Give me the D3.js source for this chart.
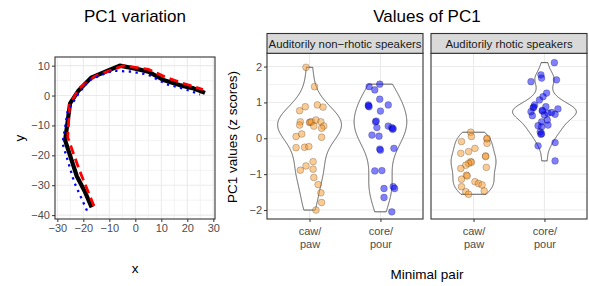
<!DOCTYPE html>
<html>
  <head>
    <meta charset="utf-8" />
    <title>PC1 variation and values</title>
    <script src="https://cdn.jsdelivr.net/npm/d3@7/dist/d3.min.js"></script>
    <style>
      body { margin: 0; background: #fff; }
      text { font-family: "Liberation Sans", Arial, sans-serif; }
    </style>
  </head>
  <body>
    <div id="chart"></div>
    <script>
      // left plot: tongue contours (x, y)
      const meanX = [-16.8, -19.5, -22.5, -27, -25.1, -22, -17, -12, -6, 0, 5, 10.8, 17, 22, 26.8];
      const meanY = [-37.4, -32, -27, -15, -2.6, 1.5, 6, 7.8, 10, 9, 8, 5.2, 3.5, 2.5, 0.9];
      const plusX = [-15.9, -21.5, -26, -25.3, -21.5, -15.5, -4.5, 5, 12, 18, 26];
      const plusY = [-37, -25, -14, -3, 2.5, 6.5, 10, 8.8, 6, 4.2, 2];
      const minusX = [-18.6, -23.5, -28, -26, -22, -18, -12, -8.5, -1.5, 5, 12, 17.8, 24.9];
      const minusY = [-38.5, -29, -16, -5, 0.5, 5, 7.3, 8.3, 8, 7, 3.8, 2.5, 0.4];

      // right plot: PC1 z scores, with horizontal jitter (category units)
      const pairs = ["caw/paw", "core/pour"];
      const groups = ["Auditorily non\u2212rhotic speakers", "Auditorily rhotic speakers"];

      const nonCawY = [1.98, 1.44, 0.88, 0.93, 0.87, 0.77, 0.46, 0.37, 0.44, 0.45, 0.46, 0.51, 0.46, 0.34, 0.34, 0.28, 0.12, 0.05, 0.03, -0.26, -0.25, -0.23, -0.65, -0.77, -0.89, -0.86, -1.09, -1.29, -1.52, -1.79, -2.0];
      const nonCawJ = [-0.05, 0.07, -0.06, 0.11, 0.19, -0.14, -0.13, -0.14, 0.0, 0.01, 0.03, 0.09, 0.16, 0.06, 0.2, 0.17, -0.11, -0.19, 0.17, -0.19, -0.07, -0.01, 0.05, -0.05, -0.13, 0.05, 0.06, 0.12, 0.16, 0.17, 0.09];

      const nonCoreY = [1.44, 1.35, 1.51, 1.09, 0.93, 0.88, 0.9, 0.93, 0.76, 0.46, 0.48, 0.3, 0.34, 0.3, 0.25, 0.27, 0.09, 0.06, -0.3, -0.33, -0.28, -0.91, -0.9, -1.35, -1.4, -1.4, -1.65, -2.05];
      const nonCoreJ = [-0.16, -0.08, -0.01, -0.01, -0.17, -0.16, -0.17, 0.11, 0.0, -0.07, -0.06, -0.05, 0.11, 0.16, 0.17, 0.18, -0.12, -0.02, -0.01, 0.0, 0.19, -0.08, 0.02, 0.18, 0.2, 0.05, 0.05, 0.16];

      const rhoCawY = [0.17, 0.05, -0.02, 0.0, -0.14, -0.09, -0.28, -0.37, -0.42, -0.49, -0.51, -0.65, -0.67, -0.7, -0.75, -0.84, -0.81, -1.03, -1.05, -1.14, -1.21, -1.26, -1.3, -1.35, -1.47, -1.49, -1.56];
      const rhoCawJ = [-0.04, -0.03, 0.19, 0.19, 0.19, -0.17, 0.02, -0.07, -0.18, 0.17, 0.17, -0.04, -0.03, -0.07, -0.11, -0.18, 0.18, -0.1, -0.09, -0.17, 0.02, 0.07, 0.12, -0.17, 0.15, -0.11, -0.07];

      const rhoCoreY = [2.11, 1.77, 1.68, 1.58, 1.63, 1.26, 1.16, 1.07, 0.93, 0.85, 0.87, 0.88, 0.82, 0.74, 0.76, 0.78, 0.72, 0.67, 0.63, 0.65, 0.7, 0.51, 0.46, 0.37, 0.35, 0.32, 0.18, 0.11, 0.13, -0.21, -0.12, -0.63];
      const rhoCoreJ = [0.14, -0.05, -0.04, -0.19, 0.17, 0.03, -0.02, -0.07, -0.14, -0.16, -0.15, 0.02, 0.19, -0.19, -0.03, -0.03, 0.1, 0.15, -0.17, 0.0, 0.05, 0.04, -0.04, 0.05, -0.09, -0.04, -0.06, -0.05, -0.04, -0.09, 0.15, 0.15];

      const panels = [
        { title: groups[0], sets: [{ pair: pairs[0], y: nonCawY, j: nonCawJ }, { pair: pairs[1], y: nonCoreY, j: nonCoreJ }] },
        { title: groups[1], sets: [{ pair: pairs[0], y: rhoCawY, j: rhoCawJ }, { pair: pairs[1], y: rhoCoreY, j: rhoCoreJ }] },
      ];

      const W = 589, H = 286;
      const svg = d3.select("#chart").append("svg").attr("width", W).attr("height", H);

      const grey92 = "#ebebeb", grey20 = "#333333", grey30 = "#4d4d4d";
      const minus = (d) => String(d).replace("-", "\u2212");

      // ---------- left plot ----------
      const lx = d3.scaleLinear().domain([-30.9, 30.65]).range([55, 215]);
      const ly = d3.scaleLinear().domain([-41.3, 12.9]).range([219, 57]);

      const left = svg.append("g");
      left.append("rect").attr("x", 55).attr("y", 57).attr("width", 160).attr("height", 162).attr("fill", "#fff");

      // minor grid
      d3.range(-25, 31, 10).forEach((v) => {
        left.append("line").attr("x1", lx(v)).attr("x2", lx(v)).attr("y1", 57).attr("y2", 219)
          .attr("stroke", grey92).attr("stroke-width", 0.6);
      });
      d3.range(-35, 13, 10).forEach((v) => {
        left.append("line").attr("y1", ly(v)).attr("y2", ly(v)).attr("x1", 55).attr("x2", 215)
          .attr("stroke", grey92).attr("stroke-width", 0.6);
      });
      // major grid
      d3.range(-30, 31, 10).forEach((v) => {
        left.append("line").attr("x1", lx(v)).attr("x2", lx(v)).attr("y1", 57).attr("y2", 219)
          .attr("stroke", grey92).attr("stroke-width", 1.1);
      });
      d3.range(-40, 11, 10).forEach((v) => {
        left.append("line").attr("y1", ly(v)).attr("y2", ly(v)).attr("x1", 55).attr("x2", 215)
          .attr("stroke", grey92).attr("stroke-width", 1.1);
      });

      const line = d3.line().x((d) => lx(d[0])).y((d) => ly(d[1]));
      const zip = (a, b) => a.map((v, i) => [v, b[i]]);

      left.append("path").attr("d", line(zip(meanX, meanY))).attr("fill", "none")
        .attr("stroke", "#000").attr("stroke-width", 4.2).attr("stroke-linejoin", "round");
      left.append("path").attr("d", line(zip(plusX, plusY))).attr("fill", "none")
        .attr("stroke", "#ff0000").attr("stroke-width", 2.8).attr("stroke-dasharray", "9,5");
      left.append("path").attr("d", line(zip(minusX, minusY))).attr("fill", "none")
        .attr("stroke", "#0000ff").attr("stroke-width", 2.3).attr("stroke-dasharray", "2.3,4.5");

      left.append("rect").attr("x", 55).attr("y", 57).attr("width", 160).attr("height", 162)
        .attr("fill", "none").attr("stroke", grey20).attr("stroke-width", 1.1);

      const lxAxis = left.append("g").attr("transform", "translate(0,219)")
        .call(d3.axisBottom(lx).tickValues(d3.range(-30, 31, 10)).tickSize(3).tickPadding(2).tickFormat(minus));
      const lyAxis = left.append("g").attr("transform", "translate(55,0)")
        .call(d3.axisLeft(ly).tickValues(d3.range(-40, 11, 10)).tickSize(3).tickPadding(2).tickFormat(minus));
      [lxAxis, lyAxis].forEach((a) => {
        a.select(".domain").remove();
        a.selectAll(".tick line").attr("stroke", grey20);
        a.selectAll(".tick text").attr("fill", grey30).attr("font-size", 11);
      });

      left.append("text").attr("x", 135).attr("y", 22).attr("text-anchor", "middle")
        .attr("font-size", 17).text("PC1 variation");
      left.append("text").attr("x", 135).attr("y", 273).attr("text-anchor", "middle")
        .attr("font-size", 13.5).text("x");
      left.append("text").attr("transform", "translate(24,138) rotate(-90)").attr("text-anchor", "middle")
        .attr("font-size", 13.5).text("y");

      // ---------- right plot ----------
      const ry = d3.scaleLinear().domain([-2.25, 2.37]).range([219, 53.3]);
      const panelX = [267, 431], panelW = 156;

      function bwNrd0(v) {
        const s = d3.deviation(v);
        const sorted = v.slice().sort(d3.ascending);
        const iqr = d3.quantile(sorted, 0.75) - d3.quantile(sorted, 0.25);
        const lo = Math.min(s, iqr / 1.34);
        return 0.9 * lo * Math.pow(v.length, -0.2);
      }
      function kde(v) {
        const bw = bwNrd0(v);
        const [mn, mx] = d3.extent(v);
        return d3.range(512).map((i) => {
          const y = mn + (mx - mn) * i / 511;
          const dens = d3.mean(v, (x) => Math.exp(-0.5 * ((y - x) / bw) ** 2)) / (bw * Math.sqrt(2 * Math.PI));
          return [y, dens];
        });
      }

      const pal = { "caw/paw": "#f7982a", "core/pour": "#0000ff" };

      panels.forEach((p, pi) => {
        const x0 = panelX[pi];
        const g = svg.append("g");
        const x = d3.scalePoint().domain(pairs).range([x0, x0 + panelW]).padding(0.6);
        const unit = x.step();

        g.append("rect").attr("x", x0).attr("y", 53.3).attr("width", panelW).attr("height", 219 - 53.3).attr("fill", "#fff");
        // minor grid
        [-1.5, -0.5, 0.5, 1.5].forEach((v) => {
          g.append("line").attr("x1", x0).attr("x2", x0 + panelW).attr("y1", ry(v)).attr("y2", ry(v))
            .attr("stroke", grey92).attr("stroke-width", 0.6);
        });
        [-2, -1, 0, 1, 2].forEach((v) => {
          g.append("line").attr("x1", x0).attr("x2", x0 + panelW).attr("y1", ry(v)).attr("y2", ry(v))
            .attr("stroke", grey92).attr("stroke-width", 1.1);
        });
        pairs.forEach((c) => {
          g.append("line").attr("x1", x(c)).attr("x2", x(c)).attr("y1", 53.3).attr("y2", 219)
            .attr("stroke", grey92).attr("stroke-width", 1.1);
        });

        // violins, scaled within the panel
        const dens = p.sets.map((s) => kde(s.y));
        const maxD = d3.max(dens, (d) => d3.max(d, (e) => e[1]));
        p.sets.forEach((s, si) => {
          const cx = x(s.pair);
          const d = dens[si];
          const outline = d.map((e) => [cx - (e[1] / maxD) * 0.45 * unit, ry(e[0])])
            .concat(d.slice().reverse().map((e) => [cx + (e[1] / maxD) * 0.45 * unit, ry(e[0])]));
          g.append("path").attr("d", d3.line()(outline) + "Z").attr("fill", "#fff")
            .attr("stroke", grey20).attr("stroke-width", 0.8);
        });

        p.sets.forEach((s) => {
          g.selectAll(null).data(s.y.map((v, i) => ({ y: v, j: s.j[i] }))).join("circle")
            .attr("cx", (d) => x(s.pair) + d.j * unit)
            .attr("cy", (d) => ry(d.y))
            .attr("r", 3.4)
            .attr("fill", pal[s.pair]).attr("fill-opacity", 0.5)
            .attr("stroke", "#000").attr("stroke-opacity", 0.3).attr("stroke-width", 0.7);
        });

        g.append("rect").attr("x", x0).attr("y", 53.3).attr("width", panelW).attr("height", 219 - 53.3)
          .attr("fill", "none").attr("stroke", grey20).attr("stroke-width", 1.1);

        // strip
        g.append("rect").attr("x", x0).attr("y", 33.5).attr("width", panelW).attr("height", 19.8)
          .attr("fill", "#d9d9d9").attr("stroke", grey20).attr("stroke-width", 1.1);
        g.append("text").attr("x", x0 + panelW / 2).attr("y", 47.8).attr("text-anchor", "middle")
          .attr("font-size", 11.4).attr("fill", "#1a1a1a").text(p.title);

        // x axis
        const xa = g.append("g").attr("transform", "translate(0,219)")
          .call(d3.axisBottom(x).tickSize(3).tickFormat(""));
        xa.select(".domain").remove();
        xa.selectAll(".tick line").attr("stroke", grey20);
        xa.selectAll(".tick").each(function (c) {
          const parts = c.split("/");
          const t = d3.select(this).append("text").attr("fill", grey30).attr("font-size", 11)
            .attr("text-anchor", "middle");
          t.append("tspan").attr("x", 0).attr("y", 16).text(parts[0] + "/");
          t.append("tspan").attr("x", 0).attr("y", 29).text(parts[1]);
        });

        if (pi === 0) {
          const ya = g.append("g").attr("transform", `translate(${x0},0)`)
            .call(d3.axisLeft(ry).tickValues([-2, -1, 0, 1, 2]).tickSize(3).tickPadding(2).tickFormat(minus));
          ya.select(".domain").remove();
          ya.selectAll(".tick line").attr("stroke", grey20);
          ya.selectAll(".tick text").attr("fill", grey30).attr("font-size", 11);
        }
      });

      svg.append("text").attr("x", 427).attr("y", 22).attr("text-anchor", "middle")
        .attr("font-size", 17).text("Values of PC1");
      svg.append("text").attr("x", 427).attr("y", 279).attr("text-anchor", "middle")
        .attr("font-size", 13.5).text("Minimal pair");
      svg.append("text").attr("transform", "translate(237,137) rotate(-90)").attr("text-anchor", "middle")
        .attr("font-size", 13.5).text("PC1 values (z scores)");
    </script>
  </body>
</html>
